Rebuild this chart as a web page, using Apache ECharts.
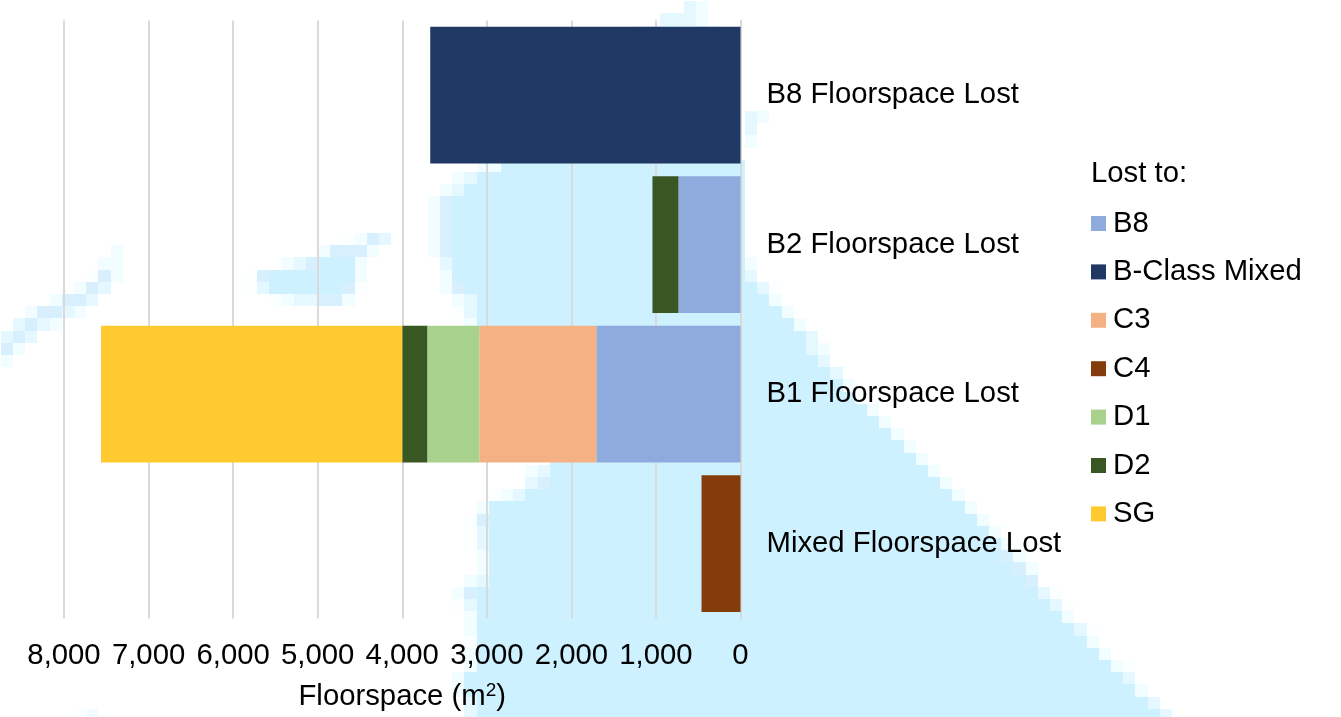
<!DOCTYPE html>
<html>
<head>
<meta charset="utf-8">
<title>Floorspace lost by use class</title>
<style>html,body{margin:0;padding:0;background:#fff}#chart{width:1341px;height:717px}</style>
<script src="https://cdn.jsdelivr.net/npm/echarts@6/dist/echarts.min.js"></script>
</head>
<body>
<div id="chart"></div>
<script>
// Floorspace lost per category, split by the use class it was lost to
const categories = ['B8 Floorspace Lost', 'B2 Floorspace Lost', 'B1 Floorspace Lost', 'Mixed Floorspace Lost'];
const xTicks = { min: 0, max: 8000, step: 1000 };
const lostToB8     = [null, 734, 1704, null];
const lostToBMixed = [3669, null, null, null];
const lostToC3     = [null, null, 1385, null];
const lostToC4     = [null, null, null, 461];
const lostToD1     = [null, null, 615, null];
const lostToD2     = [null, 307, 296, null];
const lostToSG     = [null, null, 3562, null];

const seriesSpec = [
  ['B8', lostToB8, '#8faadc'],
  ['B-Class Mixed', lostToBMixed, '#203864'],
  ['C3', lostToC3, '#f4b183'],
  ['C4', lostToC4, '#843c0c'],
  ['D1', lostToD1, '#a9d18e'],
  ['D2', lostToD2, '#385723'],
  ['SG', lostToSG, '#ffca2f']
];

// Mosaic backdrop: [row, column, left ramp tints, solid tile count, right ramp tints]
const backdropRows = [
  [0,56,'32'],[1,54,'3332'],[2,52,'2333332'],
  [9,61,'32'],[10,61,'3'],[11,61,'2'],
  [13,39,'22',20],[14,37,'23',22],[15,36,'23',23],
  [16,35,'24',24],[17,35,'24',24],[18,35,'24',24],[19,35,'24',24],[20,35,'24',24],
  [21,36,'3',24,'2'],[22,36,'2',24,'3'],[23,36,'24',24,'31'],
  [24,37,'23',24,'2'],[25,37,'13',25,'2'],[26,38,'2',26,'2'],
  [27,45,'',21,'3'],[28,45,'',21,'32'],[29,45,'',22,'3'],[30,45,'',23,'3'],
  [31,45,'',24,'2'],[32,45,'',25,'1'],[33,45,'',26,'2'],[34,45,'',27,'2'],
  [35,45,'',28,'2'],[36,45,'',29,'2'],[37,45,'',30,'2'],
  [38,43,'23',31,'2'],[39,43,'34',32,'2'],[40,40,'123',35,'2'],[41,39,'2',39,'2'],
  [42,38,'14',40,'2'],[43,38,'13',41,'2'],[44,38,'13',42,'2'],[45,39,'2',42,'42'],
  [46,39,'2',43,'42'],[47,38,'23',44,'4'],[48,37,'24',46,'31'],[49,37,'13',47,'31'],
  [50,38,'2',48,'2'],[51,38,'2',49,'31'],[52,38,'1',50,'2'],[53,38,'2',51,'2'],
  [54,38,'2',52,'21'],[55,37,'2',54,'3'],[56,37,'2',55,'2'],[57,38,'3',55,'3'],[58,38,'3',56,'3'],
  // strip on the left
  [20,9,'2'],[21,8,'22'],[22,7,'142'],[23,6,'243'],[24,4,'2443'],[25,2,'24432'],
  [26,1,'3432'],[27,0,'343'],[28,0,'42'],[29,0,'2'],
  // island
  [19,28,'1243'],[20,26,'24442'],[21,23,'234',3,'2'],[22,20,'14',7,'2'],
  [23,20,'13',6,'41'],[24,22,'1233442'],
  // bottom fragment
  [58,6,'12']
];
const tints = { 1: '#fcffff', 2: '#f2fdff', 3: '#e5f8ff', 4: '#d8f0fd' };
const solidTint = '#cdf1ff';
const tileSize = 12.2, tileX0 = 0.85, tileY0 = 1.2;

function tile(col, row, span, fill) {
  const x0 = Math.round(tileX0 + col * tileSize), x1 = Math.round(tileX0 + (col + span) * tileSize);
  const y0 = Math.round(tileY0 + row * tileSize), y1 = Math.round(tileY0 + (row + 1) * tileSize);
  return { type: 'rect', silent: true, shape: { x: x0, y: y0, width: x1 - x0, height: y1 - y0 },
           style: { fill: fill }, z: -10 };
}
const backdrop = [];
backdropRows.forEach(function (r) {
  const row = r[0]; let col = r[1];
  for (const t of (r[2] || '')) { backdrop.push(tile(col, row, 1, tints[t])); col++; }
  if (r[3]) { backdrop.push(tile(col, row, r[3], solidTint)); col += r[3]; }
  for (const t of (r[4] || '')) { backdrop.push(tile(col, row, 1, tints[t])); col++; }
});

const fontFamily = '"Liberation Sans", Arial, sans-serif';
const labelSize = 29.3;
const chart = echarts.init(document.getElementById('chart'), null, { renderer: 'canvas' });
chart.setOption({
  animation: false,
  backgroundColor: '#ffffff',
  textStyle: { fontFamily: fontFamily },
  graphic: { elements: backdrop, z: -10 },
  title: {
    text: 'Lost to:', left: 1091, top: 159,
    padding: 0,
    textStyle: { fontFamily: fontFamily, fontSize: labelSize, fontWeight: 'normal', color: '#000' }
  },
  legend: {
    orient: 'vertical', left: 1091, top: 209, padding: 0,
    itemWidth: 15, itemHeight: 15, itemGap: 19.4, icon: 'rect',
    selectedMode: false,
    data: seriesSpec.map(function (s) { return s[0]; }),
    textStyle: { fontFamily: fontFamily, fontSize: labelSize, color: '#000', padding: [0, 0, 0, 2] }
  },
  grid: { left: 64, width: 676.5, top: 20.4, height: 598, containLabel: false },
  xAxis: {
    type: 'value', inverse: true, min: xTicks.min, max: xTicks.max, interval: xTicks.step,
    position: 'bottom',
    axisLine: { show: false }, axisTick: { show: false },
    splitLine: { show: true, lineStyle: { color: '#dadada', width: 2 } },
    axisLabel: {
      margin: 23, color: '#000', fontSize: labelSize, fontFamily: fontFamily,
      formatter: function (v) { return v.toLocaleString('en-US'); }
    },
    name: 'Floorspace (m{sup|2})',
    nameLocation: 'middle', nameGap: 63,
    nameTextStyle: {
      color: '#000', fontSize: labelSize, fontFamily: fontFamily,
      rich: { sup: { fontSize: 19, fontFamily: fontFamily, color: '#000', padding: [0, 0, 12, 0] } }
    }
  },
  yAxis: {
    type: 'category', inverse: true, position: 'right', data: categories,
    axisLine: { show: true, onZero: false, lineStyle: { color: '#d9d9d9', width: 2 } },
    axisTick: { show: false },
    splitLine: { show: false },
    axisLabel: { margin: 26, color: '#000', fontSize: labelSize, fontFamily: fontFamily, align: 'left', verticalAlign: 'middle', padding: [8, 0, 0, 0] }
  },
  series: seriesSpec.map(function (s) {
    return {
      name: s[0], type: 'bar', stack: 'lost', data: s[1],
      barCategoryGap: '8.4%',
      itemStyle: { color: s[2] },
      emphasis: { disabled: true }
    };
  })
});
</script>
</body>
</html>
